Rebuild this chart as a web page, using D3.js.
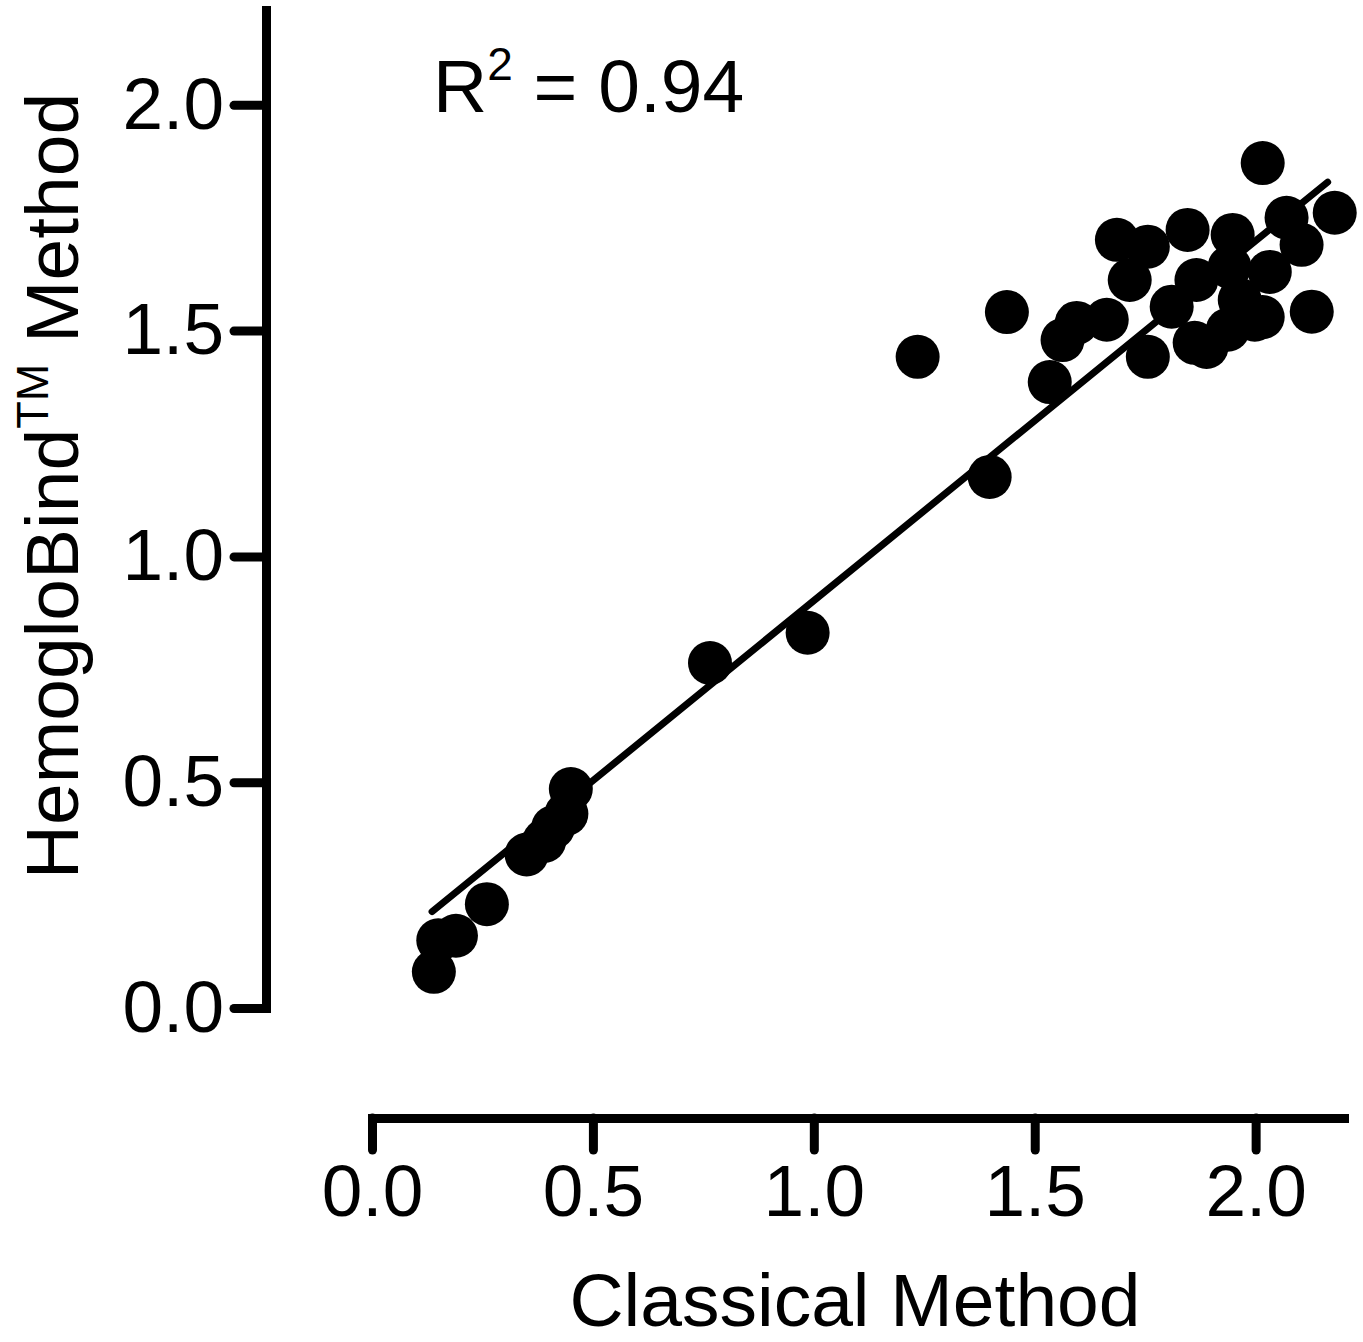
<!DOCTYPE html>
<html>

<head>
  <title>HemogloBind vs Classical</title>
</head>

<body>

  <svg id="svg" width="1363" height="1342"></svg>

  <script src="https://d3js.org/d3.v7.min.js"></script>
  <script>
    // classical method (x) and HemogloBind method (y)
    const classical = [0.14, 0.15, 0.19, 0.26, 0.35, 0.39, 0.41, 0.44, 0.45,
      0.765, 0.986, 1.235, 1.398, 1.437, 1.534, 1.563, 1.595, 1.663, 1.686,
      1.715, 1.756, 1.756, 1.846, 1.81, 1.866, 1.889, 1.862, 1.948, 1.941,
      1.964, 2.016, 1.998, 2.032, 2.016, 2.07, 2.104, 2.179, 2.127, 1.937, 1.975]
    const hemoglobind = [0.08, 0.15, 0.16, 0.23, 0.34, 0.37, 0.40, 0.43, 0.485,
      0.764, 0.831, 1.442, 1.176, 1.541, 1.386, 1.479, 1.517, 1.524, 1.701,
      1.612, 1.686, 1.442, 1.723, 1.553, 1.612, 1.464, 1.473, 1.712, 1.641,
      1.568, 1.53, 1.524, 1.63, 1.871, 1.75, 1.69, 1.761, 1.542, 1.502, 1.546]

    // linear fit as drawn
    const fitRange = [0.136, 2.163]
    const fitSlope = 0.797
    const fitIntercept = 0.105

    const xTicks = [0, 0.5, 1, 1.5, 2]
    const yTicks = [0, 0.5, 1, 1.5, 2]

    const points = classical.map((c, i) => ({ x: c, y: hemoglobind[i] }))

    const svg = d3.select('#svg')

    const xscale = d3.scaleLinear()
      .domain([0, 2.2])
      .range([372, 1344])

    const yscale = d3.scaleLinear()
      .domain([0, 2.21])
      .range([1008, 10])

    const font = '"Liberation Sans", Arial, sans-serif'

    // y axis
    const yAxis = svg.append('g')
      .attr('transform', 'translate(266,0)')
      .call(d3.axisLeft(yscale).tickValues(yTicks).tickFormat(d3.format('.1f'))
        .tickSizeOuter(0).tickSizeInner(32).tickPadding(10))
    // x axis
    const xAxis = svg.append('g')
      .attr('transform', 'translate(0,1118)')
      .call(d3.axisBottom(xscale).tickValues(xTicks).tickFormat(d3.format('.1f'))
        .tickSizeOuter(0).tickSizeInner(32).tickPadding(14))

    for (const ax of [xAxis, yAxis]) {
      ax.select('.domain').attr('stroke-width', 9).attr('stroke-linecap', 'square')
      ax.selectAll('.tick line').attr('stroke-width', 9).attr('stroke-linecap', 'round')
      ax.selectAll('.tick text')
        .attr('font-family', font)
        .attr('font-size', 73)
        .attr('fill', '#000')
    }

    // regression line
    const linegen = d3.line()
      .x(d => xscale(d))
      .y(d => yscale(fitSlope * d + fitIntercept))

    svg.append('path')
      .attr('d', linegen(fitRange))
      .attr('stroke', '#000')
      .attr('stroke-width', 7)
      .attr('stroke-linecap', 'round')
      .attr('fill', 'none')

    // points
    svg.selectAll('circle')
      .data(points)
      .enter()
      .append('circle')
      .attr('cx', d => xscale(d.x))
      .attr('cy', d => yscale(d.y))
      .attr('r', 22)
      .attr('fill', '#000')

    // R squared
    const r2 = svg.append('text')
      .attr('x', 433)
      .attr('y', 112)
      .attr('font-family', font)
      .attr('font-size', 75)
    r2.append('tspan').text('R')
    r2.append('tspan').text('2').attr('font-size', 46).attr('dy', -32)
    r2.append('tspan').text(' = 0.94').attr('dy', 32)

    // x title
    svg.append('text')
      .attr('x', 855)
      .attr('y', 1326)
      .attr('text-anchor', 'middle')
      .attr('font-family', font)
      .attr('font-size', 75)
      .text('Classical Method')

    // y title
    const yt = svg.append('text')
      .attr('transform', 'translate(78,486) rotate(-90)')
      .attr('text-anchor', 'middle')
      .attr('font-family', font)
      .attr('font-size', 75)
    yt.append('tspan').text('HemogloBind')
    yt.append('tspan').text('TM').attr('font-size', 45).attr('dy', -30)
    yt.append('tspan').text(' Method').attr('dy', 30)
  </script>
</body>

<style>
  body,
  html {
    margin: 0;
    padding: 0;
    background: #fff;
  }

  #svg {
    display: block;
  }
</style>

</html>
